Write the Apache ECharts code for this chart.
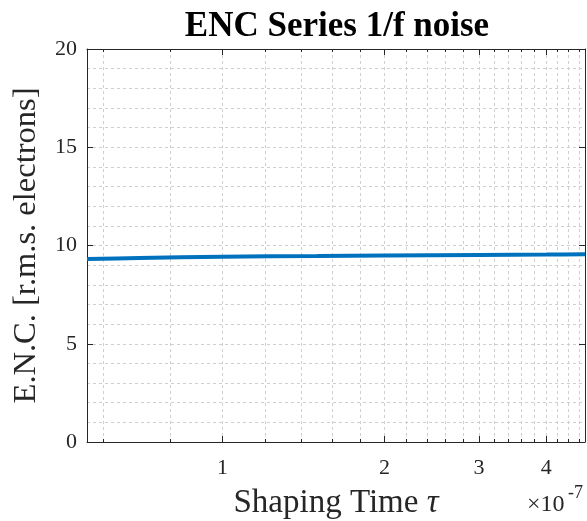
<!DOCTYPE html>
<html><head><meta charset="utf-8">
<script src="https://cdn.jsdelivr.net/npm/echarts@6/dist/echarts.min.js"></script>
<style>html,body{margin:0;padding:0;background:#fff}#c{width:587px;height:521px}</style>
</head><body><div id="c"></div>
<script>
// Data (shaping time in seconds, ENC in r.m.s. electrons)
const shapingTime = [5.6e-8, 7e-8, 1e-7, 1.5e-7, 2e-7, 3e-7, 4e-7, 4.72e-7];
const encValues   = [9.31, 9.36, 9.43, 9.46, 9.49, 9.52, 9.54, 9.56];
// Axis ticks
const xMajorTicks  = [1e-7, 2e-7, 3e-7, 4e-7];
const xMajorLabels = ['1', '2', '3', '4'];
const xMinorTicks  = [6e-8, 8e-8, 1.2e-7, 1.4e-7, 1.6e-7, 1.8e-7, 2.2e-7, 2.4e-7, 2.6e-7, 2.8e-7,
                      3.2e-7, 3.4e-7, 3.6e-7, 3.8e-7, 4.2e-7, 4.4e-7, 4.6e-7];
const xRange = [5.6e-8, 4.72e-7];
const yRange = [0, 20];
const yStep = 5;

const font = "'Liberation Serif', 'Times New Roman', serif";
const ink = '#262626';
const gridStyle = {show: true, lineStyle: {color: '#cfcfcf', type: [3, 3], width: 1}};

function xAxisDef(pos, ticks, len, withLabels, withGrid, withLine) {
  return {
    type: 'log', logBase: 10, position: pos, min: xRange[0], max: xRange[1],
    axisLine: {show: withLine, onZero: false, lineStyle: {color: ink, width: 1}},
    axisTick: {show: true, inside: true, length: len, customValues: ticks, lineStyle: {color: ink}},
    axisLabel: withLabels ? {
      show: true, customValues: ticks, margin: 15, color: ink, fontFamily: font, fontSize: 22,
      formatter: function (v) {
        for (let i = 0; i < xMajorTicks.length; i++) if (Math.abs(xMajorTicks[i] - v) < 1e-12) return xMajorLabels[i];
        return '';
      }
    } : {show: false},
    splitLine: withGrid ? gridStyle : {show: false},
    minorTick: {show: false}, minorSplitLine: {show: false}
  };
}

const chart = echarts.init(document.getElementById('c'), null, {renderer: 'canvas'});
chart.setOption({
  animation: false,
  backgroundColor: '#fff',
  grid: {left: 87, right: 2, top: 49, bottom: 79, show: false, containLabel: false, outerBoundsMode: 'none'},
  xAxis: [
    Object.assign(xAxisDef('bottom', xMajorTicks, 6, true, true, true), {
      name: '{a|Shaping Time }{b|τ}', nameLocation: 'middle', nameGap: 45,
      nameTextStyle: {color: ink, fontFamily: font, fontSize: 33,
        rich: {a: {fontFamily: font, fontSize: 33, color: ink}, b: {fontFamily: font, fontSize: 33, fontStyle: 'italic', color: ink}}}
    }),
    xAxisDef('bottom', xMinorTicks, 3, false, true, false),
    xAxisDef('top', xMajorTicks, 6, false, false, true),
    xAxisDef('top', xMinorTicks, 3, false, false, false)
  ],
  yAxis: [
    {
      type: 'value', position: 'left', min: yRange[0], max: yRange[1], interval: yStep,
      axisLine: {show: true, lineStyle: {color: ink}},
      axisTick: {show: true, inside: true, length: 6, lineStyle: {color: ink}},
      minorTick: {show: true, splitNumber: 5, length: 0},
      minorSplitLine: gridStyle,
      splitLine: gridStyle,
      axisLabel: {margin: 10, color: ink, fontFamily: font, fontSize: 22},
      name: 'E.N.C. [r.m.s. electrons]', nameLocation: 'middle', nameGap: 44,
      nameTextStyle: {color: ink, fontFamily: font, fontSize: 32.5}
    },
    {
      type: 'value', position: 'right', min: yRange[0], max: yRange[1], interval: yStep,
      axisLine: {show: true, lineStyle: {color: ink}},
      axisTick: {show: true, inside: true, length: 6, lineStyle: {color: ink}},
      axisLabel: {show: false}, splitLine: {show: false}
    }
  ],
  graphic: [
    {type: 'text', x: 337, y: 27, style: {text: 'ENC Series 1/f noise', align: 'center', verticalAlign: 'middle',
      fontFamily: font, fontWeight: 'bold', fontSize: 35, fill: '#000'}},
    {type: 'text', x: 527, y: 505, style: {text: '×10', align: 'left', verticalAlign: 'middle',
      fontFamily: font, fontSize: 24, fill: ink}},
    {type: 'text', x: 568, y: 493, style: {text: '-7', align: 'left', verticalAlign: 'middle',
      fontFamily: font, fontSize: 18, fill: ink}}
  ],
  series: [{
    type: 'line', xAxisIndex: 0, yAxisIndex: 0, showSymbol: false, smooth: 0.3,
    lineStyle: {color: '#0072BD', width: 4},
    data: shapingTime.map((t, i) => [t, encValues[i]])
  }]
});
</script>
</body></html>
